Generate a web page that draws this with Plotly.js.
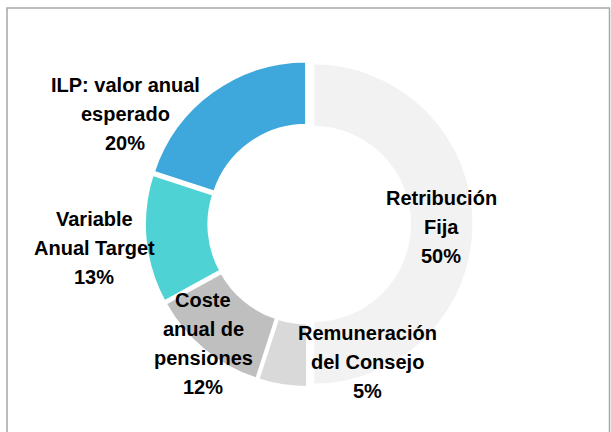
<!DOCTYPE html>
<html>
<head>
<meta charset="utf-8">
<script src="https://cdn.plot.ly/plotly-3.0.1.min.js"></script>
<style>
  html, body { margin: 0; padding: 0; background: #ffffff; }
  #chart { width: 611px; height: 432px; }
</style>
</head>
<body>
<div id="chart"></div>
<script>
// ---- data ----
var categories = [
  'Retribución<br>Fija',
  'Remuneración<br>del Consejo',
  'Coste<br>anual de<br>pensiones',
  'Variable<br>Anual Target',
  'ILP: valor anual<br>esperado'
];
var values = [50, 5, 12, 13, 20];
var colors = ['#f2f2f2', '#d9d9d9', '#bfbfbf', '#4fd2d3', '#3ea8dc'];
var pulls = [0.03, 0.015, 0.015, 0.015, 0.015];

// label block centres (pixels in the 611x432 frame)
var labelPos = [
  [441, 226],
  [367, 361],
  [203, 342],
  [94, 247],
  [125, 113]
];

var W = 611, H = 432;
var font = 'Liberation Sans, Arial, sans-serif';
var pitch = 29;

var annotations = [];
categories.forEach(function (c, i) {
  var lines = c.split('<br>').concat([values[i] + '%']);
  var n = lines.length;
  lines.forEach(function (ln, k) {
    var py = labelPos[i][1] + (k - (n - 1) / 2) * pitch + 1;
    annotations.push({
      text: '<b>' + ln + '</b>',
      x: labelPos[i][0] / W,
      y: 1 - py / H,
      xref: 'paper', yref: 'paper',
      xanchor: 'center', yanchor: 'middle',
      align: 'center',
      showarrow: false,
      font: { family: font, size: 20, color: '#000000' }
    });
  });
});

var cx = 308, cy = 224, half = 166;
var trace = {
  type: 'pie',
  labels: categories,
  values: values,
  hole: 0.6,
  sort: false,
  direction: 'clockwise',
  rotation: 0,
  pull: pulls,
  textinfo: 'none',
  hoverinfo: 'none',
  marker: { colors: colors, line: { color: '#ffffff', width: 3 } },
  domain: {
    x: [(cx - half) / W, (cx + half) / W],
    y: [1 - (cy + half) / H, 1 - (cy - half) / H]
  },
  showlegend: false
};

var layout = {
  width: W, height: H,
  margin: { l: 0, r: 0, t: 0, b: 0 },
  paper_bgcolor: '#ffffff',
  plot_bgcolor: '#ffffff',
  showlegend: false,
  annotations: annotations,
  shapes: [{
    type: 'rect', xref: 'paper', yref: 'paper',
    x0: 7 / W, x1: 609.5 / W, y0: -0.05, y1: 1 - 8 / H,
    line: { color: '#a6a6a6', width: 1.5 },
    fillcolor: 'rgba(0,0,0,0)',
    layer: 'below'
  }]
};

Plotly.newPlot('chart', [trace], layout, { displayModeBar: false, staticPlot: true });
</script>
</body>
</html>
